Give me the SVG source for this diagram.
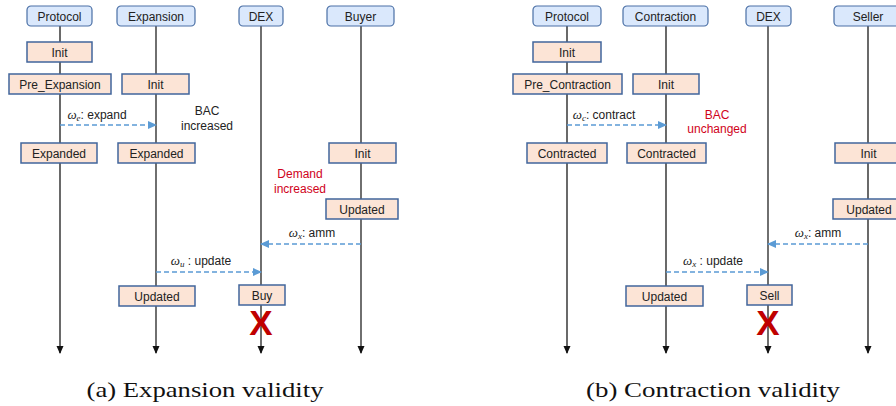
<svg xmlns="http://www.w3.org/2000/svg" width="896" height="406" viewBox="0 0 896 406">
<defs>
<style>
.hdr{fill:#dae8fc;stroke:#4a6fa5;stroke-width:1.2}
.st{fill:#fce4d6;stroke:#41659c;stroke-width:1.5}
.t{font-family:"Liberation Sans",Arial,sans-serif;font-size:12px;fill:#222;text-anchor:middle}
.red{fill:#d0021b}
.life{stroke:#222;stroke-width:1.3;fill:none}
.lg{stroke:#444;stroke-width:1.6;fill:none}
.msg{stroke:#5b9bd5;stroke-width:1.6;stroke-dasharray:5 3;fill:none}
.w{font-family:"Liberation Serif","DejaVu Serif",serif;font-style:italic;font-size:13px}
.sub{font-family:"Liberation Serif","DejaVu Serif",serif;font-style:italic;font-size:9px}
.cap{font-family:"Liberation Serif","DejaVu Serif",serif;font-size:22px;fill:#111;text-anchor:middle}
.x{font-family:"Liberation Sans",Arial,sans-serif;font-weight:bold;font-size:35px;fill:#c00000;text-anchor:middle}
</style>
<marker id="ah" markerWidth="8" markerHeight="8" refX="7" refY="4" orient="auto" markerUnits="userSpaceOnUse"><path d="M0,0.5 L8,4 L0,7.5 Z" fill="#111"/></marker>
<marker id="ab" markerWidth="9" markerHeight="9" refX="8" refY="4.5" orient="auto" markerUnits="userSpaceOnUse"><path d="M0,0.5 L9,4.5 L0,8.5 Z" fill="#5b9bd5"/></marker>
</defs>

<g id="lifelines">
<line class="lg" x1="60" y1="26" x2="60" y2="353" marker-end="url(#ah)"/>
<line class="life" x1="156" y1="26" x2="156" y2="353" marker-end="url(#ah)"/>
<line class="life" x1="261" y1="26" x2="261" y2="353" marker-end="url(#ah)"/>
<line class="life" x1="361" y1="26" x2="361" y2="353" marker-end="url(#ah)"/>
<line class="lg" x1="567" y1="26" x2="567" y2="353" marker-end="url(#ah)"/>
<line class="lg" x1="666" y1="26" x2="666" y2="353" marker-end="url(#ah)"/>
<line class="life" x1="768" y1="26" x2="768" y2="353" marker-end="url(#ah)"/>
<line class="lg" x1="868" y1="26" x2="868" y2="353" marker-end="url(#ah)"/>
</g>

<g id="connectors">
<line class="msg" x1="60" y1="125" x2="156" y2="125" marker-end="url(#ab)"/>
<line class="msg" x1="361" y1="244" x2="261" y2="244" marker-end="url(#ab)"/>
<line class="msg" x1="156" y1="272" x2="261" y2="272" marker-end="url(#ab)"/>
<line class="msg" x1="567" y1="125" x2="666" y2="125" marker-end="url(#ab)"/>
<line class="msg" x1="868" y1="244" x2="768" y2="244" marker-end="url(#ab)"/>
<line class="msg" x1="666" y1="272" x2="768" y2="272" marker-end="url(#ab)"/>
<text class="t" x="97" y="119"><tspan class="w">ω</tspan><tspan class="sub" dy="2">e</tspan><tspan dy="-2">: expand</tspan></text>
<text class="t" x="312" y="237"><tspan class="w">ω</tspan><tspan class="sub" dy="2">x</tspan><tspan dy="-2">: amm</tspan></text>
<text class="t" x="201" y="265"><tspan class="w">ω</tspan><tspan class="sub" dy="2">u</tspan><tspan dy="-2"> : update</tspan></text>
<text class="t" x="604" y="119"><tspan class="w">ω</tspan><tspan class="sub" dy="2">c</tspan><tspan dy="-2">: contract</tspan></text>
<text class="t" x="818" y="237"><tspan class="w">ω</tspan><tspan class="sub" dy="2">x</tspan><tspan dy="-2">: amm</tspan></text>
<text class="t" x="713" y="265"><tspan class="w">ω</tspan><tspan class="sub" dy="2">x</tspan><tspan dy="-2"> : update</tspan></text>
</g>

<g id="panel-a">
<g id="a-protocol"><rect class="hdr" x="27" y="6" width="65" height="20" rx="4"/><text class="t" x="59.5" y="20.5">Protocol</text></g>
<g id="a-expansion"><rect class="hdr" x="117" y="6" width="78" height="20" rx="4"/><text class="t" x="156" y="20.5">Expansion</text></g>
<g id="a-dex"><rect class="hdr" x="239" y="6" width="44" height="20" rx="4"/><text class="t" x="261" y="20.5">DEX</text></g>
<g id="a-buyer"><rect class="hdr" x="327" y="6" width="67" height="20" rx="4"/><text class="t" x="360.5" y="20.5">Buyer</text></g>
<g id="a-init-p"><rect class="st" x="27" y="42" width="65" height="20"/><text class="t" x="59.5" y="56.5">Init</text></g>
<g id="a-pre"><rect class="st" x="9" y="74" width="102" height="20"/><text class="t" x="60" y="88.5">Pre_Expansion</text></g>
<g id="a-init-e"><rect class="st" x="122" y="74" width="67" height="20"/><text class="t" x="155.5" y="88.5">Init</text></g>
<g id="a-bac"><text class="t" x="207" y="115">BAC</text><text class="t" x="207" y="130">increased</text></g>
<g id="a-expanded-p"><rect class="st" x="21" y="143" width="76" height="20"/><text class="t" x="59" y="157.5">Expanded</text></g>
<g id="a-expanded-e"><rect class="st" x="118" y="143" width="77" height="20"/><text class="t" x="156.5" y="157.5">Expanded</text></g>
<g id="a-init-b"><rect class="st" x="329" y="143" width="67" height="20"/><text class="t" x="362.5" y="157.5">Init</text></g>
<g id="a-demand"><text class="t red" x="300" y="178">Demand</text><text class="t red" x="300" y="193">increased</text></g>
<g id="a-updated-b"><rect class="st" x="326" y="199" width="72" height="20"/><text class="t" x="362" y="213.5">Updated</text></g>
<g id="a-updated-e"><rect class="st" x="119" y="286" width="76" height="20"/><text class="t" x="157" y="300.5">Updated</text></g>
<g id="a-buy"><rect class="st" x="239" y="285" width="46" height="20"/><text class="t" x="262" y="299.5">Buy</text></g>
<g id="a-x"><text class="x" x="261" y="335">X</text></g>
<g id="a-caption"><text class="cap" x="205" y="397" textLength="237" lengthAdjust="spacingAndGlyphs">(a) Expansion validity</text></g>
</g>

<g id="panel-b">
<g id="b-protocol"><rect class="hdr" x="533" y="6" width="68" height="20" rx="4"/><text class="t" x="567" y="20.5">Protocol</text></g>
<g id="b-contraction"><rect class="hdr" x="623" y="6" width="85" height="20" rx="4"/><text class="t" x="665.5" y="20.5">Contraction</text></g>
<g id="b-dex"><rect class="hdr" x="746" y="6" width="45" height="20" rx="4"/><text class="t" x="768.5" y="20.5">DEX</text></g>
<g id="b-seller"><rect class="hdr" x="834" y="6" width="70" height="20" rx="4"/><text class="t" x="868" y="20.5">Seller</text></g>
<g id="b-init-p"><rect class="st" x="533" y="42" width="68" height="20"/><text class="t" x="567" y="56.5">Init</text></g>
<g id="b-pre"><rect class="st" x="513" y="74" width="109" height="20"/><text class="t" x="567.5" y="88.5">Pre_Contraction</text></g>
<g id="b-init-c"><rect class="st" x="633" y="74" width="66" height="20"/><text class="t" x="666" y="88.5">Init</text></g>
<g id="b-bac"><text class="t red" x="717" y="119">BAC</text><text class="t red" x="717" y="133">unchanged</text></g>
<g id="b-contracted-p"><rect class="st" x="527" y="143" width="80" height="20"/><text class="t" x="567" y="157.5">Contracted</text></g>
<g id="b-contracted-c"><rect class="st" x="627" y="143" width="79" height="20"/><text class="t" x="666.5" y="157.5">Contracted</text></g>
<g id="b-init-s"><rect class="st" x="835" y="143" width="67" height="20"/><text class="t" x="868.5" y="157.5">Init</text></g>
<g id="b-updated-s"><rect class="st" x="833" y="199" width="72" height="20"/><text class="t" x="869" y="213.5">Updated</text></g>
<g id="b-updated-c"><rect class="st" x="626" y="286" width="77" height="20"/><text class="t" x="664.5" y="300.5">Updated</text></g>
<g id="b-sell"><rect class="st" x="747" y="285" width="45" height="20"/><text class="t" x="769.5" y="299.5">Sell</text></g>
<g id="b-x"><text class="x" x="768" y="335">X</text></g>
<g id="b-caption"><text class="cap" x="713" y="397" textLength="254" lengthAdjust="spacingAndGlyphs">(b) Contraction validity</text></g>
</g>
</svg>
